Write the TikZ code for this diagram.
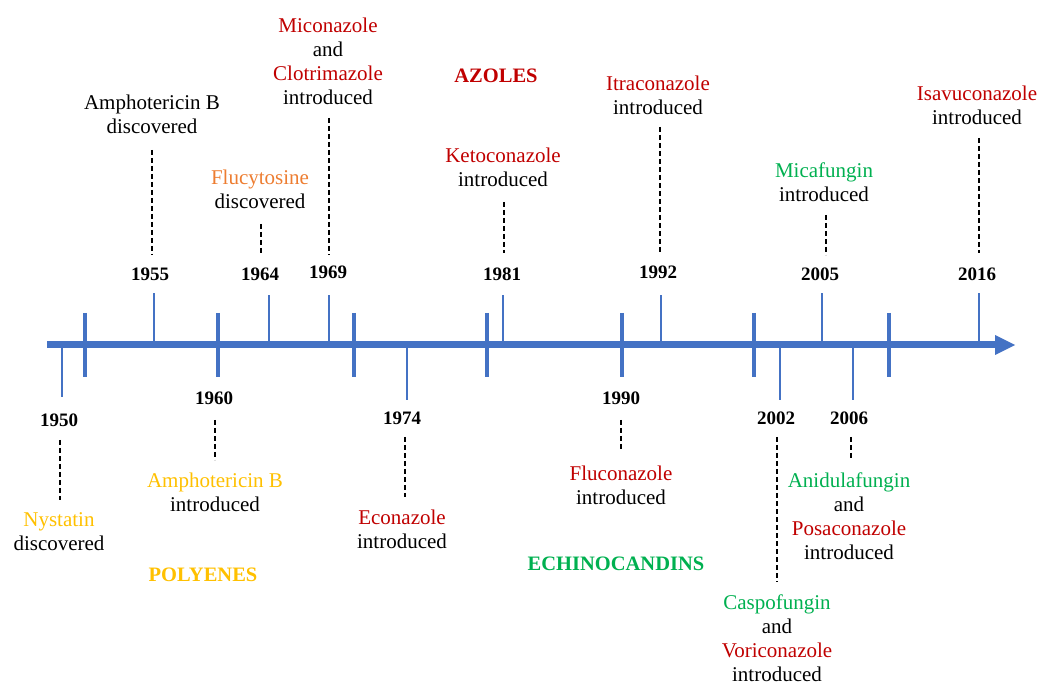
\documentclass[tikz,border=0pt]{standalone}
\usepackage{fontspec}
\setmainfont{Liberation Serif}
\definecolor{azred}{HTML}{C00000}
\definecolor{polyel}{HTML}{FFC000}
\definecolor{flor}{HTML}{ED7D31}
\definecolor{echgr}{HTML}{00B050}
\definecolor{axblue}{HTML}{4472C4}
\begin{document}
\begin{tikzpicture}[x=1pt,y=-1pt,
  lbl/.style={align=center, font=\fontsize{21}{24}\selectfont, inner sep=0pt},
  yr/.style={font=\fontsize{19}{22}\selectfont\bfseries, inner sep=0pt},
  grp/.style={font=\fontsize{20.5}{22}\selectfont\bfseries, inner sep=0pt},
  dashln/.style={black, line width=2pt, dash pattern=on 5pt off 3pt},
  bigtick/.style={axblue, line width=3.5pt},
  yrtick/.style={axblue, line width=2.5pt},
]
\useasboundingbox (0,0) rectangle (1042,684);
% axis
\coordinate (axs) at (47,345);
\coordinate (axe) at (997,345);
\draw[axblue, line width=7pt] (axs) -- (axe);
\fill[axblue] (995,335) -- (1015,345) -- (995,355) -- cycle;
% big ticks
\foreach \x in {85,218,354,487,622,754,889}
  \draw[bigtick] (\x,313) -- (\x,377);
% year ticks
\draw[yrtick] (62,345) -- (62,397);
\draw[yrtick] (154,345) -- (154,293);
\draw[yrtick] (269,345) -- (269,295);
\draw[yrtick] (329,348) -- (329,295);
\draw[yrtick] (407,345) -- (407,400);
\draw[yrtick] (503,348) -- (503,295);
\draw[yrtick] (661,348) -- (661,295);
\draw[yrtick] (780,345) -- (780,400);
\draw[yrtick] (822,345) -- (822,293);
\draw[yrtick] (853,345) -- (853,400);
\draw[yrtick] (979,345) -- (979,293);
% year labels
\node[yr] (y1950) at (59,420) {1950};
\node[yr] (y1955) at (150,274) {1955};
\node[yr] (y1960) at (214,398) {1960};
\node[yr] (y1964) at (260,274) {1964};
\node[yr] (y1969) at (328,272) {1969};
\node[yr] (y1974) at (402,418) {1974};
\node[yr] (y1981) at (502,274) {1981};
\node[yr] (y1990) at (621,398) {1990};
\node[yr] (y1992) at (658,272) {1992};
\node[yr] (y2002) at (776,418) {2002};
\node[yr] (y2005) at (820,274) {2005};
\node[yr] (y2006) at (849,418) {2006};
\node[yr] (y2016) at (977,274) {2016};
% event texts (top)
\node[lbl] (tAmB) at (152,114) {Amphotericin B\\discovered};
\node[lbl] (tMic) at (328,61) {\textcolor{azred}{Miconazole}\\and\\\textcolor{azred}{Clotrimazole}\\introduced};
\node[lbl] (tFlu) at (260,189) {\textcolor{flor}{Flucytosine}\\discovered};
\node[grp, text=azred] (gAzo) at (496,76) {AZOLES};
\node[lbl] (tKet) at (503,167) {\textcolor{azred}{Ketoconazole}\\introduced};
\node[lbl] (tItr) at (658,95) {\textcolor{azred}{Itraconazole}\\introduced};
\node[lbl] (tMcf) at (824,182) {\textcolor{echgr}{Micafungin}\\introduced};
\node[lbl] (tIsa) at (977,105) {\textcolor{azred}{Isavuconazole}\\introduced};
% event texts (bottom)
\node[lbl] (tNys) at (59,532) {\textcolor{polyel}{Nystatin}\\discovered};
\node[lbl] (tAmI) at (215,492) {\textcolor{polyel}{Amphotericin B}\\introduced};
\node[grp, text=polyel] (gPol) at (203,575) {POLYENES};
\node[lbl] (tEco) at (402,529) {\textcolor{azred}{Econazole}\\introduced};
\node[lbl] (tFcz) at (621,485) {\textcolor{azred}{Fluconazole}\\introduced};
\node[grp, text=echgr] (gEch) at (616,564) {ECHINOCANDINS};
\node[lbl] (tAni) at (849,516) {\textcolor{echgr}{Anidulafungin}\\and\\\textcolor{azred}{Posaconazole}\\introduced};
\node[lbl] (tCas) at (777,638) {\textcolor{echgr}{Caspofungin}\\and\\\textcolor{azred}{Voriconazole}\\introduced};
% dashed connectors
\draw[dashln] (152,150) -- (152,255);
\draw[dashln] (261,224) -- (261,255);
\draw[dashln] (329,118) -- (329,255);
\draw[dashln] (504,202) -- (504,253);
\draw[dashln] (660,127) -- (660,252);
\draw[dashln] (826,215) -- (826,255);
\draw[dashln] (979,138) -- (979,253);
\draw[dashln] (60,440) -- (60,500);
\draw[dashln] (215,420) -- (215,460);
\draw[dashln] (405,437) -- (405,497);
\draw[dashln] (621,420) -- (621,450);
\draw[dashln] (777,437) -- (777,582);
\draw[dashln] (851,437) -- (851,460);
\end{tikzpicture}
\end{document}
